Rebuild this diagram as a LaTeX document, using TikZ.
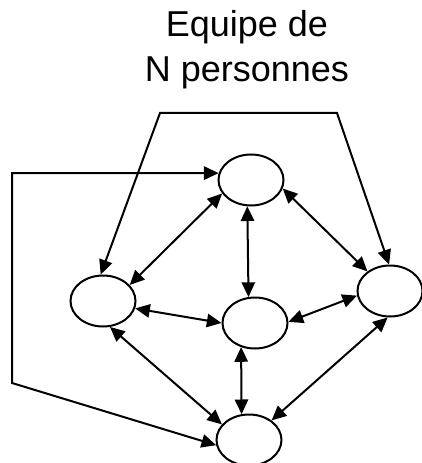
\documentclass[tikz,border=0pt]{standalone}
\usepackage{fontspec}
\setmainfont{Liberation Sans}
\usepackage{tikz}
\usetikzlibrary{shapes.geometric,arrows.meta}

\begin{document}
\begin{tikzpicture}[x=0.75pt,y=-0.75pt,
	personne/.style={ellipse, draw, line width=1.5pt, inner sep=0pt, minimum width=48.75pt, minimum height=38.25pt},
	fleche/.style={{Triangle[length=11pt,width=10pt]}-{Triangle[length=11pt,width=10pt]}, line width=1.5pt}]
	\useasboundingbox (0,0) rectangle (421,463);
	\node[anchor=north, inner sep=0pt, align=center, font=\fontsize{27}{33.2}\selectfont] (titre) at (247,10.6) {Equipe de\\N personnes};
	\node[personne] (haut) at (251,180) {};
	\node[personne] (gauche) at (103,301) {};
	\node[personne] (centre) at (255,323) {};
	\node[personne] (droite) at (390,291) {};
	\node[personne] (bas) at (249,440) {};
	\coordinate (c1) at (160,113);
	\coordinate (c2) at (337,113);
	\coordinate (c3) at (12,383);
	\draw[fleche] (gauche.95) -- (c1) -- (c2) -- (droite.92);
	\draw[fleche] (bas.189) -- (c3) |- (haut.168);
	\draw[fleche] (haut.205) -- (gauche.31);
	\draw[fleche] (haut.262) -- (centre.104);
	\draw[fleche] (haut.345) -- (droite.139);
	\draw[fleche] (gauche.347) -- (centre.180);
	\draw[fleche] (centre.2) -- (droite.188);
	\draw[fleche] (gauche.285) -- (bas.150);
	\draw[fleche] (centre.240) -- (bas.106);
	\draw[fleche] (droite.265) -- (bas.41);
\end{tikzpicture}
\end{document}
